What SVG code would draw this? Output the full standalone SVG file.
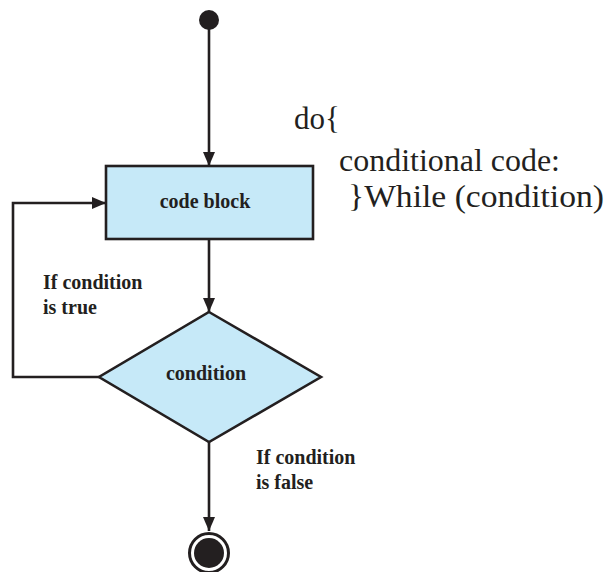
<svg xmlns="http://www.w3.org/2000/svg" width="609" height="572" viewBox="0 0 609 572">
<defs>
<style>
.ln{fill:none;stroke:#231f20;stroke-width:2.6}
.shape{fill:#c6e9f8;stroke:#231f20;stroke-width:2.6}
.lbl{font-family:"Liberation Serif",serif;font-weight:bold;font-size:20px;fill:#231f20}
.code{font-family:"Liberation Serif",serif;font-size:31px;fill:#231f20}
</style>
<marker id="arr" markerWidth="14" markerHeight="12" viewBox="0 0 14 12" refX="14" refY="6" orient="auto" markerUnits="userSpaceOnUse">
<path d="M0,0 L14,6 L0,12 Z" fill="#231f20"/>
</marker>
</defs>
<rect width="609" height="572" fill="#fff"/>
<g id="connectors">
<line class="ln" x1="209" y1="25" x2="209" y2="166" marker-end="url(#arr)"/>
<line class="ln" x1="209" y1="239" x2="209" y2="312" marker-end="url(#arr)"/>
<polyline class="ln" points="99,377 13,377 13,203 106,203" marker-end="url(#arr)"/>
<line class="ln" x1="209" y1="442" x2="209" y2="531" marker-end="url(#arr)"/>
</g>
<g id="start"><circle cx="209" cy="20" r="10" fill="#231f20"/></g>
<g id="codeblock">
<rect class="shape" x="106" y="166" width="207" height="73"/>
<text class="lbl" x="205" y="208" text-anchor="middle" font-size="19.5">code block</text>
</g>
<g id="condition">
<polygon class="shape" points="209,312 321,377 209,442 99,377"/>
<text class="lbl" x="206" y="380" text-anchor="middle">condition</text>
</g>
<g id="end">
<circle cx="209" cy="553" r="19.5" fill="#fff" stroke="#231f20" stroke-width="3"/>
<circle cx="209" cy="553" r="15" fill="#231f20"/>
</g>
<g id="labels">
<text class="lbl" x="43" y="289">If condition</text>
<text class="lbl" x="43" y="314">is true</text>
<text class="lbl" x="256" y="464">If condition</text>
<text class="lbl" x="256" y="489">is false</text>
</g>
<g id="code">
<text class="code" x="294" y="129">do{</text>
<text class="code" x="339" y="171" textLength="221" lengthAdjust="spacingAndGlyphs">conditional code:</text>
<text class="code" x="348" y="207" textLength="256" lengthAdjust="spacingAndGlyphs">}While (condition)</text>
</g>
</svg>
